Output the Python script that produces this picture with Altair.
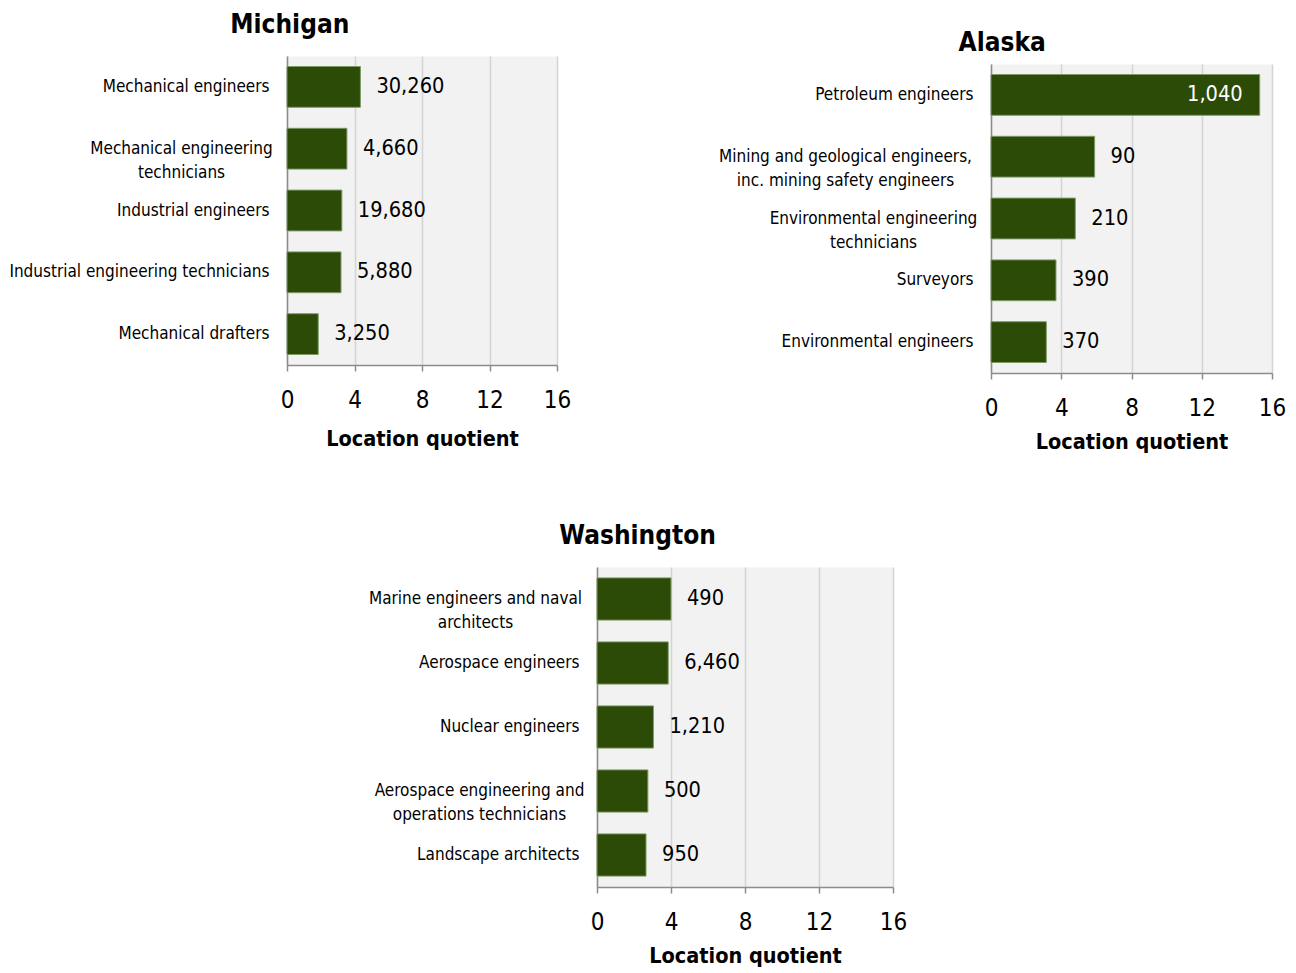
import altair as alt
import pandas as pd

FONT = "Liberation Sans Narrow, Arial Narrow, DejaVu Sans Condensed, sans-serif"

mi_occ = ["Mechanical engineers", "Mechanical engineering|technicians", "Industrial engineers",
          "Industrial engineering technicians", "Mechanical drafters"]
mi_lq = [4.35, 3.55, 3.25, 3.2, 1.85]
mi_emp = ["30,260", "4,660", "19,680", "5,880", "3,250"]

ak_occ = ["Petroleum engineers", "Mining and geological engineers,|inc. mining safety engineers",
          "Environmental engineering|technicians", "Surveyors", "Environmental engineers"]
ak_lq = [15.3, 5.9, 4.8, 3.7, 3.15]
ak_emp = ["1,040", "90", "210", "390", "370"]

wa_occ = ["Marine engineers and naval|architects", "Aerospace engineers", "Nuclear engineers",
          "Aerospace engineering and|operations technicians", "Landscape architects"]
wa_lq = [4.0, 3.85, 3.05, 2.75, 2.65]
wa_emp = ["490", "6,460", "1,210", "500", "950"]

x_ticks = [0, 4, 8, 12, 16]

LABEL_PAD = 18
HALF_CHAR = 4.0  # approx half of the average glyph width of the label font


def panel(title, occ, lq, emp, w, h, title_offset, x_title_pad):
    df = pd.DataFrame({"occ": occ, "lq": lq, "emp": emp})
    df["inside"] = df["lq"] > 12
    # multi-line labels: lines centred on each other, block right-aligned against the axis
    multi = [o for o in occ if "|" in o]
    pad_conds = [
        {"test": "datum.label === '%s'" % o,
         "value": LABEL_PAD + HALF_CHAR * max(len(s) for s in o.split("|"))}
        for o in multi
    ]
    yscale = alt.Scale(paddingInner=0.34, paddingOuter=0.17)
    y = alt.Y("occ:N", sort=occ, title=None, scale=yscale,
              axis=alt.Axis(labelExpr="split(datum.label, '|')", ticks=False,
                            labelPadding={"condition": pad_conds, "value": LABEL_PAD},
                            labelAlign={"condition": {"test": "indexof(datum.label, '|') >= 0",
                                                      "value": "center"}, "value": "right"},
                            labelFontSize=17.0, labelColor="black", labelFont=FONT,
                            domainColor="#8c8c8c", domainWidth=1.5, labelLimit=500,
                            labelLineHeight=24))
    x = alt.X("lq:Q", title="Location quotient", scale=alt.Scale(domain=[0, 16], nice=False),
              axis=alt.Axis(values=x_ticks, tickSize=6, tickColor="#8c8c8c", tickWidth=1.5,
                            domainColor="#8c8c8c", domainWidth=1.5, labelFlush=False,
                            grid=True, gridColor="#d4d4d4", gridWidth=1.5,
                            labelFontSize=24, labelFont=FONT, labelColor="black", labelPadding=17,
                            titleFontSize=21.5, titleFont=FONT, titleFontWeight="bold",
                            titleColor="black", titlePadding=x_title_pad))
    base = alt.Chart(df)
    bars = base.mark_bar(color="#2b4b07", stroke="#7d9a66", strokeWidth=1).encode(x=x, y=y)
    out = base.transform_filter("!datum.inside").mark_text(
        align="left", baseline="middle", dx=16, fontSize=21.6, font=FONT, color="black"
    ).encode(x="lq:Q", y=alt.Y("occ:N", sort=occ), text="emp:N")
    ins = base.transform_filter("datum.inside").mark_text(
        align="right", baseline="middle", dx=-17, fontSize=21.6, font=FONT, color="white"
    ).encode(x="lq:Q", y=alt.Y("occ:N", sort=occ), text="emp:N")
    return alt.layer(bars, out, ins).properties(
        width=w, height=h,
        title=alt.TitleParams(title, offset=title_offset, fontSize=26, font=FONT,
                              fontWeight="bold", color="black", anchor="middle", frame="bounds"),
    )


def spacer(w, h):
    return alt.Chart(pd.DataFrame({"v": [0]})).mark_point(opacity=0, size=1).properties(
        width=w, height=h, view=alt.ViewBackground(fill="transparent", stroke="transparent"))


mi = panel("Michigan", mi_occ, mi_lq, mi_emp, 270, 309, 18, 16)
ak = panel("Alaska", ak_occ, ak_lq, ak_emp, 281, 309, 8, 11)
wa = panel("Washington", wa_occ, wa_lq, wa_emp, 296, 320, 18, 11)

mi_col = alt.vconcat(spacer(1, 1), mi, spacing=0)
ak_col = alt.vconcat(spacer(1, 19), ak, spacing=0)
top = alt.hconcat(mi_col, ak_col, spacing=146)
bottom = alt.hconcat(spacer(79, 1), wa, spacing=0)

chart = alt.vconcat(top, bottom, spacing=69).properties(
    padding=0, background="white"
).configure_view(fill="#f2f2f2", stroke="transparent")

chart.save("out.html", embed_options={"renderer": "svg", "actions": False})
